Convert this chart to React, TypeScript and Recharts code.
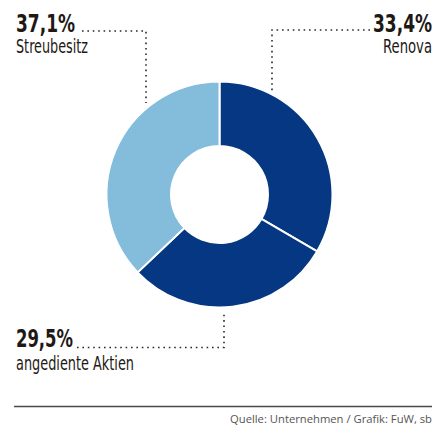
import { PieChart, Pie, Cell } from "recharts"

const names = ["Renova", "angediente Aktien", "Streubesitz"]
const shares = [33.4, 29.5, 37.1]
const colors = ["#053782", "#053782", "#84bcdc"]
const source = "Quelle: Unternehmen / Grafik: FuW, sb"

const data = names.map((name, i) => ({ name, value: shares[i] }))

const fmt = (v: number) => v.toFixed(1).replace(".", ",") + "%"

const condensed = "'DejaVu Sans Condensed', 'Liberation Sans Narrow', 'Roboto Condensed', 'DejaVu Sans', sans-serif"
const ink = "#1e1915"
const dots = { stroke: "#2a2a2a", strokeWidth: 1.6, strokeDasharray: "1.6 3.8", fill: "none" }

export default function App() {
  return (
    <div style={{ position: "absolute", left: 0, top: 0, width: 437, height: 429, background: "#fff" }}>
      <PieChart
        width={437}
        height={429}
        margin={{ top: 0, right: 0, bottom: 0, left: 0 }}
        style={{ position: "absolute", left: 0, top: 0 }}
      >
        <Pie
          data={data}
          dataKey="value"
          nameKey="name"
          cx={219.5}
          cy={194.5}
          innerRadius={48.5}
          outerRadius={113}
          startAngle={90}
          endAngle={-270}
          stroke="#fff"
          strokeWidth={2}
          isAnimationActive={false}
        >
          {data.map((d, i) => (
            <Cell key={d.name} fill={colors[i]} />
          ))}
        </Pie>
      </PieChart>
      <svg width={437} height={429} style={{ position: "absolute", left: 0, top: 0, pointerEvents: "none" }}>
        {/* leader lines */}
        <polyline points="82,31 146,31 146,103" {...dots} />
        <polyline points="370,30 272,30 272,92" {...dots} />
        <polyline points="77,347.5 224,347.5 224,312" {...dots} />

        {/* Streubesitz */}
        <text x={16} y={32} fontFamily={condensed} fontWeight={700} fontSize={25} fill={ink} textLength={59} lengthAdjust="spacingAndGlyphs">
          {fmt(shares[2])}
        </text>
        <text x={16} y={53} fontFamily={condensed} fontSize={19} fill={ink} textLength={72} lengthAdjust="spacingAndGlyphs">
          {names[2]}
        </text>

        {/* Renova */}
        <text x={432} y={32} textAnchor="end" fontFamily={condensed} fontWeight={700} fontSize={25} fill={ink} textLength={59} lengthAdjust="spacingAndGlyphs">
          {fmt(shares[0])}
        </text>
        <text x={432} y={53} textAnchor="end" fontFamily={condensed} fontSize={19} fill={ink} textLength={49} lengthAdjust="spacingAndGlyphs">
          {names[0]}
        </text>

        {/* angediente Aktien */}
        <text x={16} y={347} fontFamily={condensed} fontWeight={700} fontSize={25} fill={ink} textLength={57} lengthAdjust="spacingAndGlyphs">
          {fmt(shares[1])}
        </text>
        <text x={16} y={370} fontFamily={condensed} fontSize={19} fill={ink} textLength={118} lengthAdjust="spacingAndGlyphs">
          {names[1]}
        </text>

        <line x1={14} x2={432} y1={406.5} y2={406.5} stroke="#4a4a4a" strokeWidth={1.5} />
        <text x={432} y={423} textAnchor="end" fontFamily="'Open Sans', sans-serif" fontSize={11} fill="#555" textLength={202} lengthAdjust="spacingAndGlyphs">
          {source}
        </text>
      </svg>
    </div>
  )
}
